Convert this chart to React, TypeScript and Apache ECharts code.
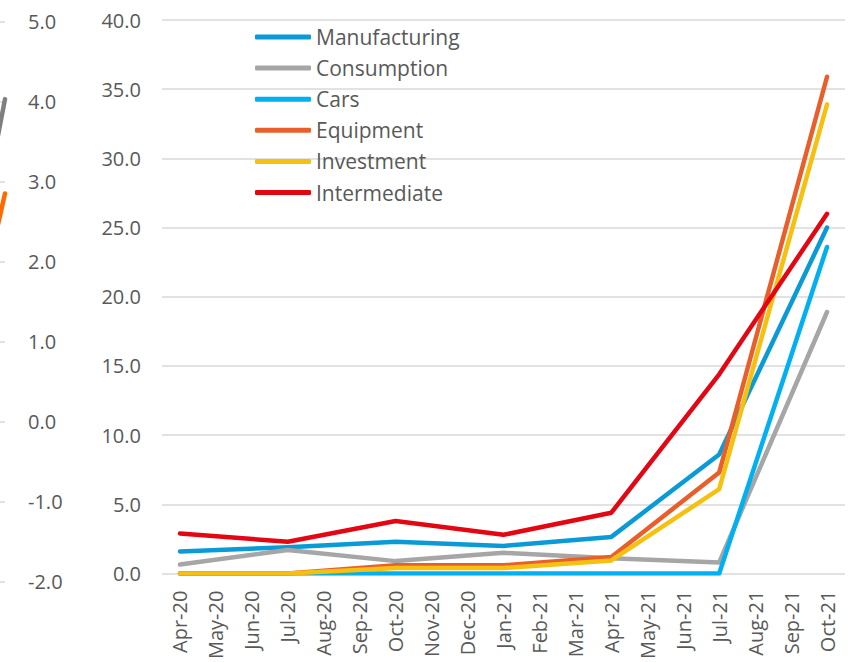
import React, { useEffect, useRef } from "react";
import * as echarts from "echarts";

const months = [
  "Apr-20", "May-20", "Jun-20", "Jul-20", "Aug-20", "Sep-20", "Oct-20", "Nov-20", "Dec-20",
  "Jan-21", "Feb-21", "Mar-21", "Apr-21", "May-21", "Jun-21", "Jul-21", "Aug-21", "Sep-21", "Oct-21",
];

const N = null;
const manufacturing = [1.6, N, N, 1.9, N, N, 2.3, N, N, 2.0, N, N, 2.65, N, N, 8.6, N, N, 25.0];
const consumption = [0.65, N, N, 1.7, N, N, 0.9, N, N, 1.5, N, N, 1.1, N, N, 0.8, N, N, 18.9];
const cars = [0, N, N, 0, N, N, 0, N, N, 0, N, N, 0, N, N, 0, N, N, 23.6];
const equipment = [0, N, N, 0, N, N, 0.6, N, N, 0.6, N, N, 1.2, N, N, 7.3, N, N, 35.9];
const investment = [0, N, N, 0, N, N, 0.4, N, N, 0.4, N, N, 0.95, N, N, 6.1, N, N, 33.9];
const intermediate = [2.9, N, N, 2.3, N, N, 3.8, N, N, 2.8, N, N, 4.4, N, N, 14.4, N, N, 26.0];

const seriesNames = ["Manufacturing", "Consumption", "Cars", "Equipment", "Investment", "Intermediate"];
const seriesData = [manufacturing, consumption, cars, equipment, investment, intermediate];
const seriesColors = ["#0A9BD6", "#A6A6A6", "#00B0F0", "#E85F2C", "#F5C010", "#E30613"];

// fragments of the neighbouring (cropped) chart on the far left
const leftGrey = [[-1, 3.38], [1, 4.03]];
const leftOrange = [[-1, 2.3], [1, 2.85]];

const FONT = "Open Sans";
const LABEL = "#595959";
const GRID = "#D9D9D9";

export default function App() {
  const ref = useRef<HTMLDivElement>(null);
  useEffect(() => {
    const chart = echarts.init(ref.current!, null, { renderer: "svg" });
    const main = seriesNames.map((name, i) => ({
      name,
      type: "line",
      xAxisIndex: 0,
      yAxisIndex: 0,
      data: seriesData[i],
      connectNulls: true,
      symbol: "none",
      color: seriesColors[i],
      lineStyle: { width: 4.5, color: seriesColors[i], cap: "round", join: "round" },
      z: 2 + i,
    }));
    chart.setOption({
      animation: false,
      backgroundColor: "#fff",
      textStyle: { fontFamily: FONT },
      grid: [
        { left: 162, width: 683, top: 20, height: 554, containLabel: false },
        { left: 0, width: 5, top: 21.5, height: 560, containLabel: false },
      ],
      legend: {
        data: seriesNames,
        orient: "vertical",
        left: 250,
        top: 21,
        icon: "roundRect",
        itemWidth: 56,
        itemHeight: 5,
        itemGap: 9.1,
        textStyle: { fontFamily: FONT, fontSize: 21, color: LABEL, lineHeight: 22 },
      },
      xAxis: [
        {
          type: "category",
          gridIndex: 0,
          data: months,
          boundaryGap: true,
          axisLine: { show: false },
          axisTick: { show: false },
          axisLabel: { rotate: 90, margin: 17, fontSize: 20, color: LABEL, fontFamily: FONT, interval: 0 },
        },
        {
          type: "value",
          gridIndex: 1,
          min: 0,
          max: 1,
          show: false,
        },
      ],
      yAxis: [
        {
          type: "value",
          gridIndex: 0,
          min: 0,
          max: 40,
          interval: 5,
          axisLine: { show: false },
          axisTick: { show: false },
          splitLine: { lineStyle: { color: GRID, width: 1.5 } },
          axisLabel: {
            margin: 21,
            fontSize: 20,
            color: LABEL,
            fontFamily: FONT,
            formatter: (v: number) => v.toFixed(1),
          },
        },
        {
          type: "value",
          gridIndex: 1,
          position: "right",
          min: -2,
          max: 5,
          interval: 1,
          axisLine: { show: false },
          axisTick: { show: false },
          splitLine: { lineStyle: { color: GRID, width: 1.5 } },
          axisLabel: {
            margin: 23,
            fontSize: 20,
            color: LABEL,
            fontFamily: FONT,
            align: "left",
            formatter: (v: number) => v.toFixed(1),
          },
        },
      ],
      series: [
        ...main,
        {
          name: "left-grey",
          type: "line",
          xAxisIndex: 1,
          yAxisIndex: 1,
          data: leftGrey,
          symbol: "none",
          clip: false,
          lineStyle: { width: 4.5, color: "#7F7F7F", cap: "round" },
        },
        {
          name: "left-orange",
          type: "line",
          xAxisIndex: 1,
          yAxisIndex: 1,
          data: leftOrange,
          symbol: "none",
          clip: false,
          lineStyle: { width: 4.5, color: "#FF6A00", cap: "round" },
        },
      ],
    });
    return () => chart.dispose();
  }, []);
  return (
    <div
      ref={ref}
      style={{ position: "fixed", left: 0, top: 0, width: 853, height: 662 }}
    />
  );
}
